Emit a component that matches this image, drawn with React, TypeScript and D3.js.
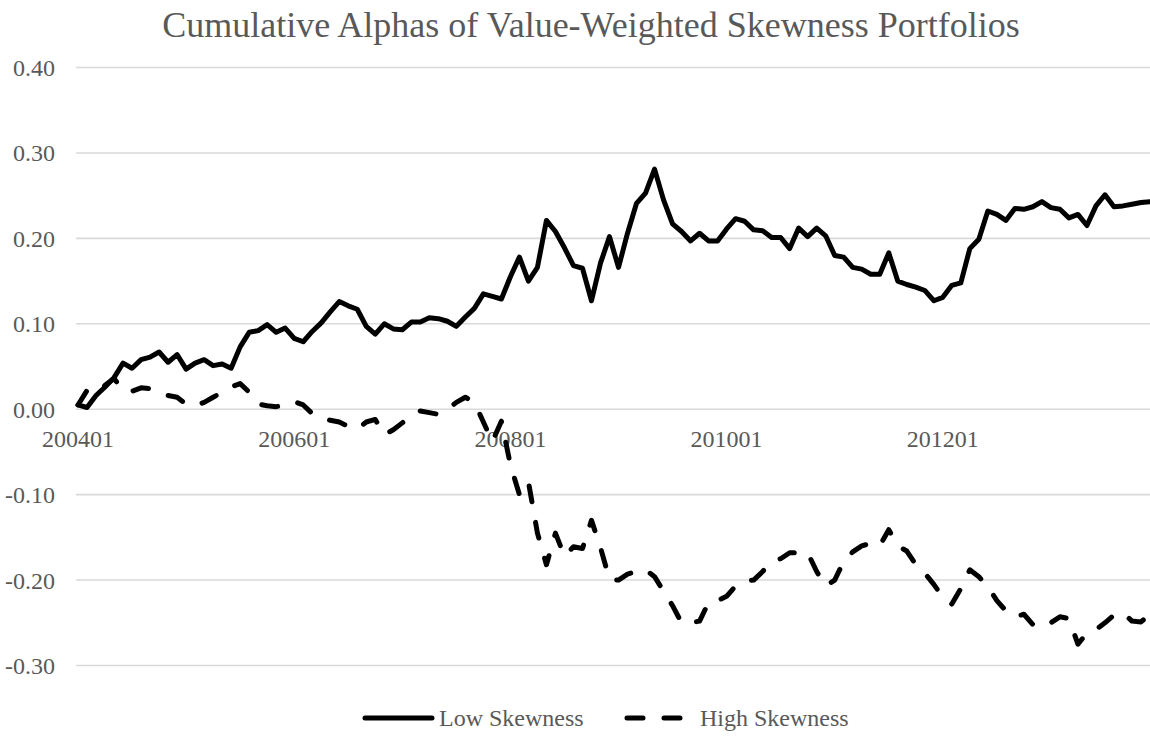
import React from "react";
import * as d3 from "d3";

const startYear = 2004;
const monthCount = 120;
const xTickLabels = ["200401", "200601", "200801", "201001", "201201"];
const yTicks = [0.4, 0.3, 0.2, 0.1, 0.0, -0.1, -0.2, -0.3];

const lowSkewness = [
  0.005, 0.002, 0.016, 0.026, 0.037, 0.054, 0.048, 0.058, 0.061, 0.067,
  0.055, 0.064, 0.047, 0.054, 0.058, 0.051, 0.053, 0.048, 0.073, 0.090,
  0.092, 0.099, 0.090, 0.095, 0.083, 0.079, 0.091, 0.101, 0.114, 0.126,
  0.121, 0.117, 0.097, 0.088, 0.100, 0.094, 0.093, 0.102, 0.102, 0.107,
  0.106, 0.103, 0.097, 0.108, 0.118, 0.135, 0.132, 0.129, 0.155, 0.178,
  0.150, 0.166, 0.221, 0.208, 0.189, 0.168, 0.165, 0.127, 0.171, 0.202,
  0.166, 0.206, 0.241, 0.253, 0.281, 0.245, 0.217, 0.208, 0.197, 0.206,
  0.197, 0.197, 0.211, 0.223, 0.220, 0.210, 0.209, 0.201, 0.201, 0.188,
  0.212, 0.202, 0.212, 0.203, 0.180, 0.178, 0.166, 0.164, 0.158, 0.158,
  0.183, 0.150, 0.146, 0.143, 0.139, 0.127, 0.131, 0.145, 0.148, 0.188,
  0.199, 0.232, 0.228, 0.221, 0.235, 0.234, 0.237, 0.243, 0.236, 0.234,
  0.224, 0.228, 0.215, 0.238, 0.251, 0.237, 0.238, 0.240, 0.242, 0.243,
];

const highSkewness = [
  0.005, 0.022, 0.020, 0.028, 0.036, 0.022, 0.021, 0.025, 0.024, 0.019,
  0.016, 0.014, 0.006, 0.004, 0.008, 0.014, 0.020, 0.026, 0.030, 0.020,
  0.006, 0.004, 0.003, 0.005, 0.009, 0.005, -0.005, -0.010, -0.013, -0.015,
  -0.020, -0.023, -0.015, -0.012, -0.030, -0.024, -0.016, -0.008, -0.002, -0.004,
  -0.006, 0.000, 0.008, 0.014, 0.008, -0.015, -0.038, -0.014, -0.065, -0.100,
  -0.085, -0.145, -0.182, -0.145, -0.172, -0.161, -0.163, -0.130, -0.162, -0.199,
  -0.200, -0.193, -0.190, -0.188, -0.196, -0.213, -0.230, -0.250, -0.250, -0.248,
  -0.226, -0.224, -0.219, -0.207, -0.201, -0.200, -0.190, -0.178, -0.175, -0.168,
  -0.168, -0.168, -0.190, -0.207, -0.200, -0.178, -0.167, -0.160, -0.157, -0.160,
  -0.141, -0.160, -0.166, -0.182, -0.192, -0.205, -0.220, -0.228, -0.210, -0.188,
  -0.196, -0.208, -0.224, -0.236, -0.243, -0.240, -0.252, -0.255, -0.250, -0.243,
  -0.245, -0.275, -0.262, -0.258, -0.250, -0.241, -0.238, -0.248, -0.249, -0.240,
];

const months = d3.range(monthCount).map((i) => {
  const y = startYear + Math.floor(i / 12);
  const m = (i % 12) + 1;
  return `${y}${m < 10 ? "0" + m : m}`;
});

const W = 1150;
const H = 736;
const FONT = "'Liberation Serif', 'Times New Roman', Times, serif";
const TEXT = "#595959";

export default function App() {
  const x = d3.scalePoint<string>().domain(months).range([78, 1150]);
  const y = d3.scaleLinear().domain([-0.3, 0.4]).range([665.5, 67.5]);

  const line = d3
    .line<number>()
    .x((_, i) => x(months[i]) as number)
    .y((d) => y(d));

  return (
    <svg
      width={W}
      height={H}
      style={{ position: "absolute", left: 0, top: 0, background: "#fff" }}
      fontFamily={FONT}
    >
      <rect x={0} y={0} width={W} height={H} fill="#fff" />
      <text x={591} y={37} textAnchor="middle" fontSize={36} fill={TEXT}>
        Cumulative Alphas of Value-Weighted Skewness Portfolios
      </text>
      {yTicks.map((t) => (
        <g key={t}>
          <line x1={76} x2={1150} y1={y(t)} y2={y(t)} stroke="#d9d9d9" strokeWidth={1.6} />
          <text x={55} y={y(t) + 8.5} textAnchor="end" fontSize={24} fill={TEXT}>
            {t.toFixed(2)}
          </text>
        </g>
      ))}
      {xTickLabels.map((lab) => (
        <text key={lab} x={x(lab) as number} y={447} textAnchor="middle" fontSize={24} fill={TEXT}>
          {lab}
        </text>
      ))}
      <path
        d={line(highSkewness) || ""}
        fill="none"
        stroke="#000"
        strokeWidth={5}
        strokeLinecap="round"
        strokeLinejoin="round"
        strokeDasharray="16 21"
      />
      <path
        d={line(lowSkewness) || ""}
        fill="none"
        stroke="#000"
        strokeWidth={5}
        strokeLinecap="round"
        strokeLinejoin="round"
      />
      <g>
        <line x1={365} x2={432} y1={718} y2={718} stroke="#000" strokeWidth={5} strokeLinecap="round" />
        <text x={439} y={726} fontSize={24} fill={TEXT}>
          Low Skewness
        </text>
        <line
          x1={627}
          x2={686}
          y1={718}
          y2={718}
          stroke="#000"
          strokeWidth={5}
          strokeLinecap="round"
          strokeDasharray="16 21"
        />
        <text x={700} y={726} fontSize={24} fill={TEXT}>
          High Skewness
        </text>
      </g>
    </svg>
  );
}
